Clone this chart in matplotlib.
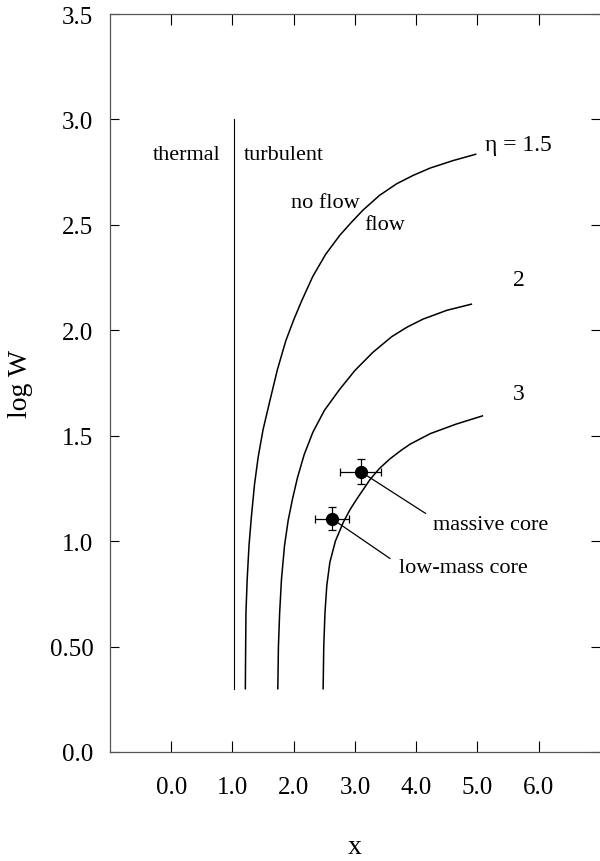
import matplotlib.pyplot as plt

plt.rcParams['font.family'] = ['Liberation Serif', 'DejaVu Serif']

# boundary line thermal / turbulent
x_boundary = [1.02, 1.02]
y_boundary = [0.30, 3.00]

# curves for eta = 1.5, 2, 3
x_eta15 = [1.21, 1.215, 1.22, 1.24, 1.27, 1.31, 1.36, 1.42, 1.50, 1.61, 1.73, 1.87, 2.00,
           2.13, 2.31, 2.52, 2.75, 2.95, 3.13, 3.40, 3.68, 3.95, 4.23, 4.60, 4.97]
y_eta15 = [0.30, 0.50, 0.66, 0.82, 0.98, 1.12, 1.27, 1.40, 1.53, 1.665, 1.81, 1.95, 2.05,
           2.14, 2.255, 2.36, 2.45, 2.515, 2.57, 2.64, 2.695, 2.735, 2.77, 2.805, 2.835]

x_eta2 = [1.74, 1.75, 1.77, 1.80, 1.85, 1.91, 1.98, 2.06, 2.17, 2.31, 2.50, 2.75, 3.00,
          3.29, 3.60, 3.85, 4.11, 4.50, 4.90]
y_eta2 = [0.30, 0.50, 0.66, 0.82, 0.98, 1.10, 1.20, 1.30, 1.41, 1.515, 1.62, 1.72, 1.81,
          1.895, 1.97, 2.015, 2.053, 2.095, 2.124]

x_eta3 = [2.48, 2.49, 2.51, 2.54, 2.59, 2.68, 2.81, 2.92, 3.03, 3.25, 3.40, 3.57, 3.75,
          3.90, 4.23, 4.65, 5.08]
y_eta3 = [0.30, 0.50, 0.66, 0.79, 0.90, 1.00, 1.09, 1.15, 1.20, 1.294, 1.345, 1.39, 1.43,
          1.46, 1.51, 1.555, 1.594]

# cores
core_names = ['massive core', 'low-mass core']
core_x = [3.09, 2.62]
core_y = [1.33, 1.107]
core_xerr = [0.33, 0.28]
core_yerr = [0.058, 0.053]
label_x = [4.28, 3.72]
label_y = [1.081, 0.877]
leader_end_x = [4.15, 3.57]
leader_end_y = [1.132, 0.918]

fig = plt.figure(figsize=(6, 8.62), dpi=100)
ax = fig.add_axes([0.1833, 0.1265, 0.8167, 0.856])

ax.plot(x_boundary, y_boundary, color='black', lw=0.8)
ax.plot(x_eta15, y_eta15, color='black', lw=1.1)
ax.plot(x_eta2, y_eta2, color='black', lw=1.1)
ax.plot(x_eta3, y_eta3, color='black', lw=1.1)

for i in range(len(core_names)):
    ax.plot([core_x[i], leader_end_x[i]], [core_y[i], leader_end_y[i]], color='black', lw=0.9)
    ax.errorbar(core_x[i], core_y[i], xerr=core_xerr[i], yerr=core_yerr[i],
                fmt='o', color='black', ms=8.5, elinewidth=0.9, capsize=3, capthick=0.9)
    ax.text(label_x[i], label_y[i], core_names[i], fontsize=16, va='center', ha='left')

ax.text(0.25, 2.835, 'thermal', fontsize=16, ha='center', va='center')
ax.text(1.18, 2.835, 'turbulent', fontsize=16, ha='left', va='center')
ax.text(1.95, 2.606, 'no flow', fontsize=16, ha='left', va='center')
ax.text(3.15, 2.50, 'flow', fontsize=16, ha='left', va='center')
ax.text(5.13, 2.883, 'η = 1.5', fontsize=17, ha='left', va='center')
ax.text(5.67, 2.243, '2', fontsize=17, ha='center', va='center')
ax.text(5.67, 1.70, '3', fontsize=17, ha='center', va='center')

ax.set_xlim(-1, 7)
ax.set_ylim(0, 3.5)
ax.set_xticks([0, 1, 2, 3, 4, 5, 6])
ax.set_xticklabels(['0.0', '1.0', '2.0', '3.0', '4.0', '5.0', '6.0'])
ax.set_yticks([0, 0.5, 1.0, 1.5, 2.0, 2.5, 3.0, 3.5])
ax.set_yticklabels(['0.0', '0.50', '1.0', '1.5', '2.0', '2.5', '3.0', '3.5'])
ax.tick_params(axis='both', direction='in', top=True, right=True, labelsize=18, width=0.8)
ax.tick_params(axis='x', length=8, pad=17)
ax.tick_params(axis='y', length=6.5, pad=12)
for s in ['left', 'bottom', 'top']:
    ax.spines[s].set_color('#555555')
    ax.spines[s].set_linewidth(0.9)
ax.spines['right'].set_visible(False)

ax.set_xlabel('x', fontsize=20, labelpad=26)
ax.set_ylabel('log W', fontsize=20, labelpad=12)

fig.savefig('out.png', dpi=100)
